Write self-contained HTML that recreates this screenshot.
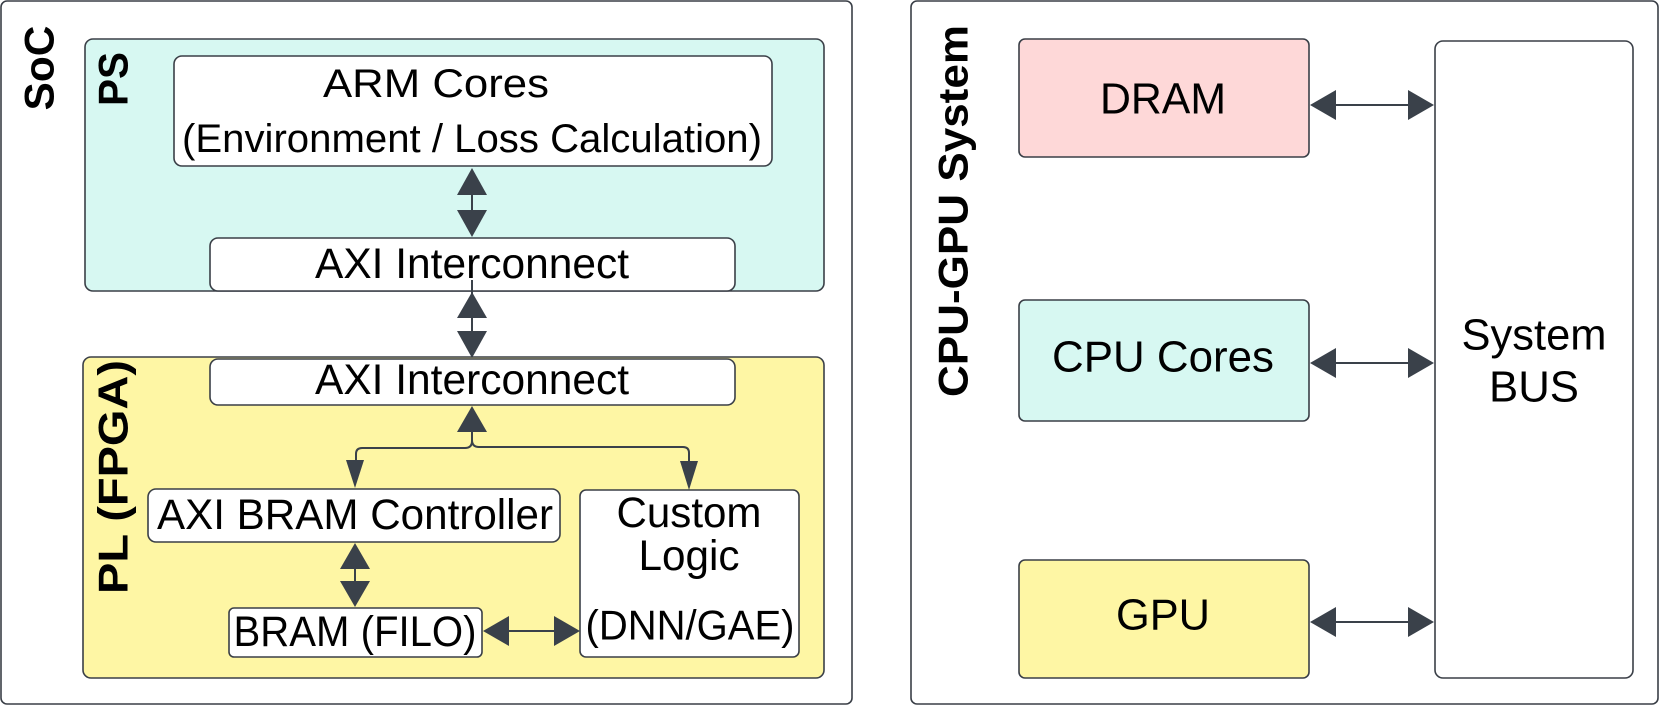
<!DOCTYPE html>
<html><head><meta charset="utf-8"><style>
html,body{margin:0;padding:0;background:#fff;}
svg{display:block;}
text{font-family:"Liberation Sans",sans-serif;fill:#000;}
</style></head><body>
<svg width="1661" height="707" viewBox="0 0 1661 707" xmlns="http://www.w3.org/2000/svg">
<defs>
<style>.b{stroke:#3a3f47;stroke-width:1.6;}.ln{stroke:#3a414a;stroke-width:2;fill:none;}.ah{fill:#3a414a;}</style>
</defs>
<!-- Left panel -->
<rect x="1" y="1" width="851" height="703" rx="6" fill="#fff" class="b"/>
<text transform="translate(39,68) rotate(-90)" font-size="42" font-weight="bold" text-anchor="middle" dominant-baseline="central" textLength="85" lengthAdjust="spacingAndGlyphs">SoC</text>
<!-- PS -->
<rect x="85" y="39" width="739" height="252" rx="8" fill="#d7f8f2" class="b"/>
<text transform="translate(113,79) rotate(-90)" font-size="42" font-weight="bold" text-anchor="middle" dominant-baseline="central" textLength="54" lengthAdjust="spacingAndGlyphs">PS</text>
<rect x="174" y="56" width="598" height="110" rx="8" fill="#fff" class="b"/>
<text x="436" y="84" font-size="40" text-anchor="middle" dominant-baseline="central" textLength="226" lengthAdjust="spacingAndGlyphs">ARM Cores</text>
<text x="472" y="139" font-size="40" text-anchor="middle" dominant-baseline="central" textLength="580" lengthAdjust="spacingAndGlyphs">(Environment / Loss Calculation)</text>
<!-- arrow ARM-AXI -->
<line x1="472" y1="190" x2="472" y2="214" class="ln"/>
<polygon class="ah" points="472,168 457,195 487,195"/>
<polygon class="ah" points="472,237 457,210 487,210"/>
<rect x="210" y="238" width="525" height="53" rx="8" fill="#fff" class="b"/>
<text x="472" y="264" font-size="43" text-anchor="middle" dominant-baseline="central" textLength="314" lengthAdjust="spacingAndGlyphs">AXI Interconnect</text>
<!-- PL -->
<rect x="83" y="357" width="741" height="321" rx="8" fill="#fef6a4" class="b"/>
<text transform="translate(113,477) rotate(-90)" font-size="42" font-weight="bold" text-anchor="middle" dominant-baseline="central" textLength="234" lengthAdjust="spacingAndGlyphs">PL (FPGA)</text>
<!-- arrow between interconnects -->
<line x1="472" y1="280" x2="472" y2="340" class="ln"/>
<polygon class="ah" points="472,292 457,318 487,318"/>
<polygon class="ah" points="472,358 457,331 487,331"/>
<rect x="210" y="359" width="525" height="46" rx="8" fill="#fff" class="b"/>
<text x="472" y="380" font-size="43" text-anchor="middle" dominant-baseline="central" textLength="314" lengthAdjust="spacingAndGlyphs">AXI Interconnect</text>
<!-- branch -->
<polygon class="ah" points="472,406 457,432 487,432"/>
<path class="ln" d="M472,430 V441 Q472,448 465,448 H362 Q356,448 356,454 V462"/>
<path class="ln" d="M472,440 Q472,447 479,447 H683 Q689,447 689,453 V462"/>
<polygon class="ah" points="355,488 346,460 364,460"/>
<polygon class="ah" points="689,490 680,461 698,461"/>
<rect x="148" y="489" width="412" height="53" rx="8" fill="#fff" class="b"/>
<text x="355" y="515" font-size="43" text-anchor="middle" dominant-baseline="central" textLength="396" lengthAdjust="spacingAndGlyphs">AXI BRAM Controller</text>
<rect x="580" y="490" width="219" height="167" rx="6" fill="#fff" class="b"/>
<text x="689" y="513" font-size="43" text-anchor="middle" dominant-baseline="central" textLength="145" lengthAdjust="spacingAndGlyphs">Custom</text>
<text x="689" y="556" font-size="43" text-anchor="middle" dominant-baseline="central" textLength="101" lengthAdjust="spacingAndGlyphs">Logic</text>
<text x="690" y="625" font-size="42" text-anchor="middle" dominant-baseline="central" textLength="209" lengthAdjust="spacingAndGlyphs">(DNN/GAE)</text>
<!-- arrow ctrl-bram -->
<line x1="355" y1="565" x2="355" y2="585" class="ln"/>
<polygon class="ah" points="355,543 340,569 370,569"/>
<polygon class="ah" points="355,607 340,581 370,581"/>
<rect x="229" y="608" width="253" height="49" rx="5" fill="#fff" class="b"/>
<text x="355" y="632" font-size="43" text-anchor="middle" dominant-baseline="central" textLength="243" lengthAdjust="spacingAndGlyphs">BRAM (FILO)</text>
<!-- horizontal arrow -->
<line x1="505" y1="631" x2="558" y2="631" class="ln"/>
<polygon class="ah" points="483,631 509,616 509,646"/>
<polygon class="ah" points="580,631 554,616 554,646"/>

<!-- Right panel -->
<rect x="911" y="1" width="747" height="703" rx="6" fill="#fff" class="b"/>
<text transform="translate(953,211) rotate(-90)" font-size="42" font-weight="bold" text-anchor="middle" dominant-baseline="central" textLength="372" lengthAdjust="spacingAndGlyphs">CPU-GPU System</text>
<rect x="1019" y="39" width="290" height="118" rx="6" fill="#fed8d8" class="b"/>
<text x="1163" y="99" font-size="44" text-anchor="middle" dominant-baseline="central" textLength="126" lengthAdjust="spacingAndGlyphs">DRAM</text>
<rect x="1019" y="300" width="290" height="121" rx="6" fill="#d7f8f2" class="b"/>
<text x="1163" y="357" font-size="44" text-anchor="middle" dominant-baseline="central" textLength="222" lengthAdjust="spacingAndGlyphs">CPU Cores</text>
<rect x="1019" y="560" width="290" height="118" rx="6" fill="#fef6a4" class="b"/>
<text x="1163" y="615" font-size="44" text-anchor="middle" dominant-baseline="central" textLength="94" lengthAdjust="spacingAndGlyphs">GPU</text>
<rect x="1435" y="41" width="198" height="637" rx="8" fill="#fff" class="b"/>
<text x="1534" y="335" font-size="44" text-anchor="middle" dominant-baseline="central" textLength="145" lengthAdjust="spacingAndGlyphs">System</text>
<text x="1534" y="387" font-size="44" text-anchor="middle" dominant-baseline="central" textLength="90" lengthAdjust="spacingAndGlyphs">BUS</text>
<!-- right arrows -->
<g>
<line x1="1330" y1="105" x2="1414" y2="105" class="ln"/>
<polygon class="ah" points="1310,105 1336,90 1336,120"/>
<polygon class="ah" points="1434,105 1408,90 1408,120"/>
<line x1="1330" y1="363" x2="1414" y2="363" class="ln"/>
<polygon class="ah" points="1310,363 1336,348 1336,378"/>
<polygon class="ah" points="1434,363 1408,348 1408,378"/>
<line x1="1330" y1="622" x2="1414" y2="622" class="ln"/>
<polygon class="ah" points="1310,622 1336,607 1336,637"/>
<polygon class="ah" points="1434,622 1408,607 1408,637"/>
</g>
</svg>
</body></html>
